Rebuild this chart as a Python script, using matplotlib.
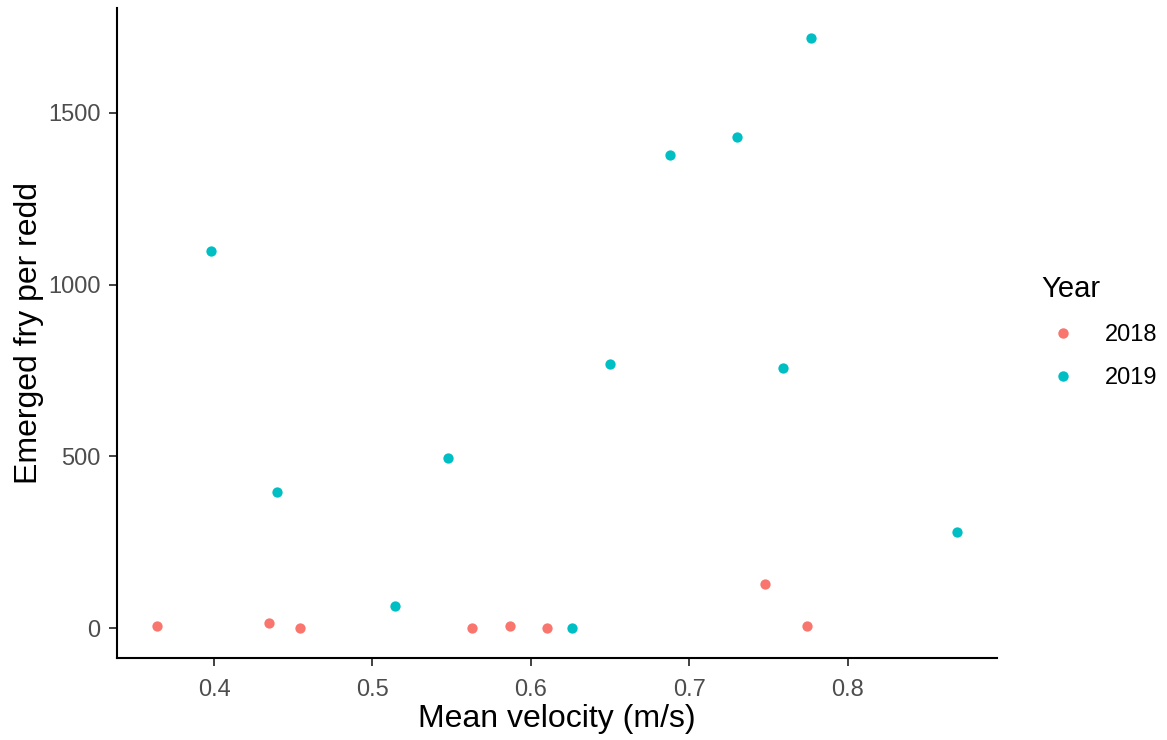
import numpy as np
import matplotlib
matplotlib.use('Agg')
import matplotlib.pyplot as plt
from matplotlib.lines import Line2D

# values
vel_2018 = [0.364, 0.435, 0.454, 0.563, 0.587, 0.610, 0.748, 0.774]
fry_2018 = [6, 17, 0, 0, 6, 0, 129, 6]
vel_2019 = [0.398, 0.440, 0.514, 0.548, 0.626, 0.650, 0.688, 0.730, 0.759, 0.777, 0.869]
fry_2019 = [1097, 397, 64, 496, 0, 769, 1376, 1428, 758, 1718, 280]

years = ['2018', '2019']
colours = ['#F8766D', '#00BFC4']
xticks = [0.4, 0.5, 0.6, 0.7, 0.8]
yticks = [0, 500, 1000, 1500]

plt.rcParams['font.family'] = ['Liberation Sans', 'DejaVu Sans']

fig = plt.figure(figsize=(11.67, 7.4), dpi=100)
ax = fig.add_axes([117 / 1167, 82 / 740, 880 / 1167, 650 / 740])

ax.scatter(vel_2018, fry_2018, s=55, color=colours[0], linewidths=0, zorder=3)
ax.scatter(vel_2019, fry_2019, s=55, color=colours[1], linewidths=0, zorder=3)

# ggplot-like 5% expansion
allx = np.array(vel_2018 + vel_2019)
ally = np.array(fry_2018 + fry_2019)
dx = allx.max() - allx.min()
dy = ally.max() - ally.min()
ax.set_xlim(allx.min() - 0.05 * dx, allx.max() + 0.05 * dx)
ax.set_ylim(ally.min() - 0.05 * dy, ally.max() + 0.05 * dy)

ax.set_xticks(xticks)
ax.set_xticklabels([str(t) for t in xticks])
ax.set_yticks(yticks)
ax.set_yticklabels([str(t) for t in yticks])

for s in ['top', 'right']:
    ax.spines[s].set_visible(False)
for s in ['left', 'bottom']:
    ax.spines[s].set_linewidth(1.5)
    ax.spines[s].set_color('black')

ax.tick_params(axis='both', length=6, width=1.3, color='#333333',
               labelcolor='#4D4D4D', labelsize=17)
ax.tick_params(axis='x', pad=9)
ax.tick_params(axis='y', pad=6)

ax.set_xlabel('Mean velocity (m/s)', fontsize=23, color='black', labelpad=2)
ax.set_ylabel('Emerged fry per redd', fontsize=23, color='black', labelpad=3)

handles = [Line2D([], [], marker='o', linestyle='', markersize=7.5,
                  markerfacecolor=c, markeredgewidth=0) for c in colours]
leg = fig.legend(handles, years, title='Year', loc='center left',
                 bbox_to_anchor=(1020 / 1167, 1 - 332 / 740), frameon=False,
                 fontsize=17, title_fontsize=21, handletextpad=0.9,
                 labelspacing=0.9, handlelength=1.8)
leg._legend_box.align = 'left'

fig.savefig('out.png', dpi=100)
